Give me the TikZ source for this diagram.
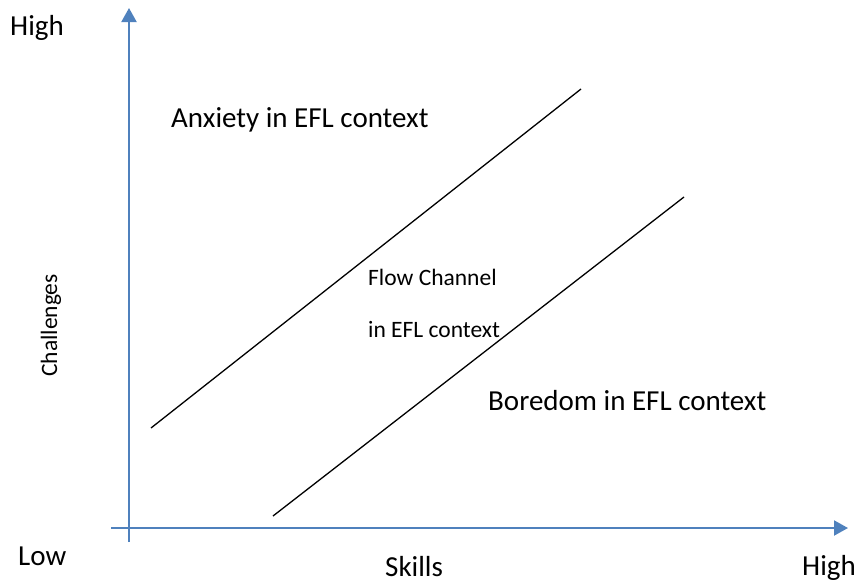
\documentclass[tikz,border=0pt]{standalone}
\usepackage{fontspec}
\setmainfont{Carlito}
\usetikzlibrary{arrows.meta}
\definecolor{axisblue}{RGB}{79,129,189}
\tikzset{
  axis/.style={axisblue,line width=2pt,-{Triangle[length=14pt,width=15pt]}},
  big/.style={inner sep=0,anchor=base west,font=\fontsize{29}{34}\selectfont},
  small/.style={inner sep=0,anchor=base west,font=\fontsize{23.5}{28}\selectfont}
}
\begin{document}
\begin{tikzpicture}[x=1pt,y=-1pt]
\useasboundingbox (0,0) rectangle (857,582);
% axes
\coordinate (ystart) at (129,542);
\coordinate (ytop) at (129,8);
\coordinate (xstart) at (111,528);
\coordinate (xend) at (848,528);
\draw[axis] (ystart)--(ytop);
\draw[axis] (xstart)--(xend);
% channel borders
\coordinate (upa) at (151,428);
\coordinate (upb) at (581,89);
\coordinate (lowa) at (273,516);
\coordinate (lowb) at (684,197);
\draw[line width=1.3pt] (upa)--(upb);
\draw[line width=1.3pt] (lowa)--(lowb);
% labels
\node[big] (yhigh) at (10,35) {High};
\node[big] (ylow) at (18,565) {Low};
\node[big] (skills) at (385,576) {Skills};
\node[big] (xhigh) at (802,575) {High};
\node[small,rotate=90] (chall) at (57,377) {Challenges};
\node[big] (anxiety) at (171,127) {Anxiety in EFL context};
\node[small] (flow) at (368,285) {Flow Channel};
\node[small] (flowb) at (368,337) {in EFL context};
\node[big] (boredom) at (488,410) {Boredom in EFL context};
\end{tikzpicture}
\end{document}
